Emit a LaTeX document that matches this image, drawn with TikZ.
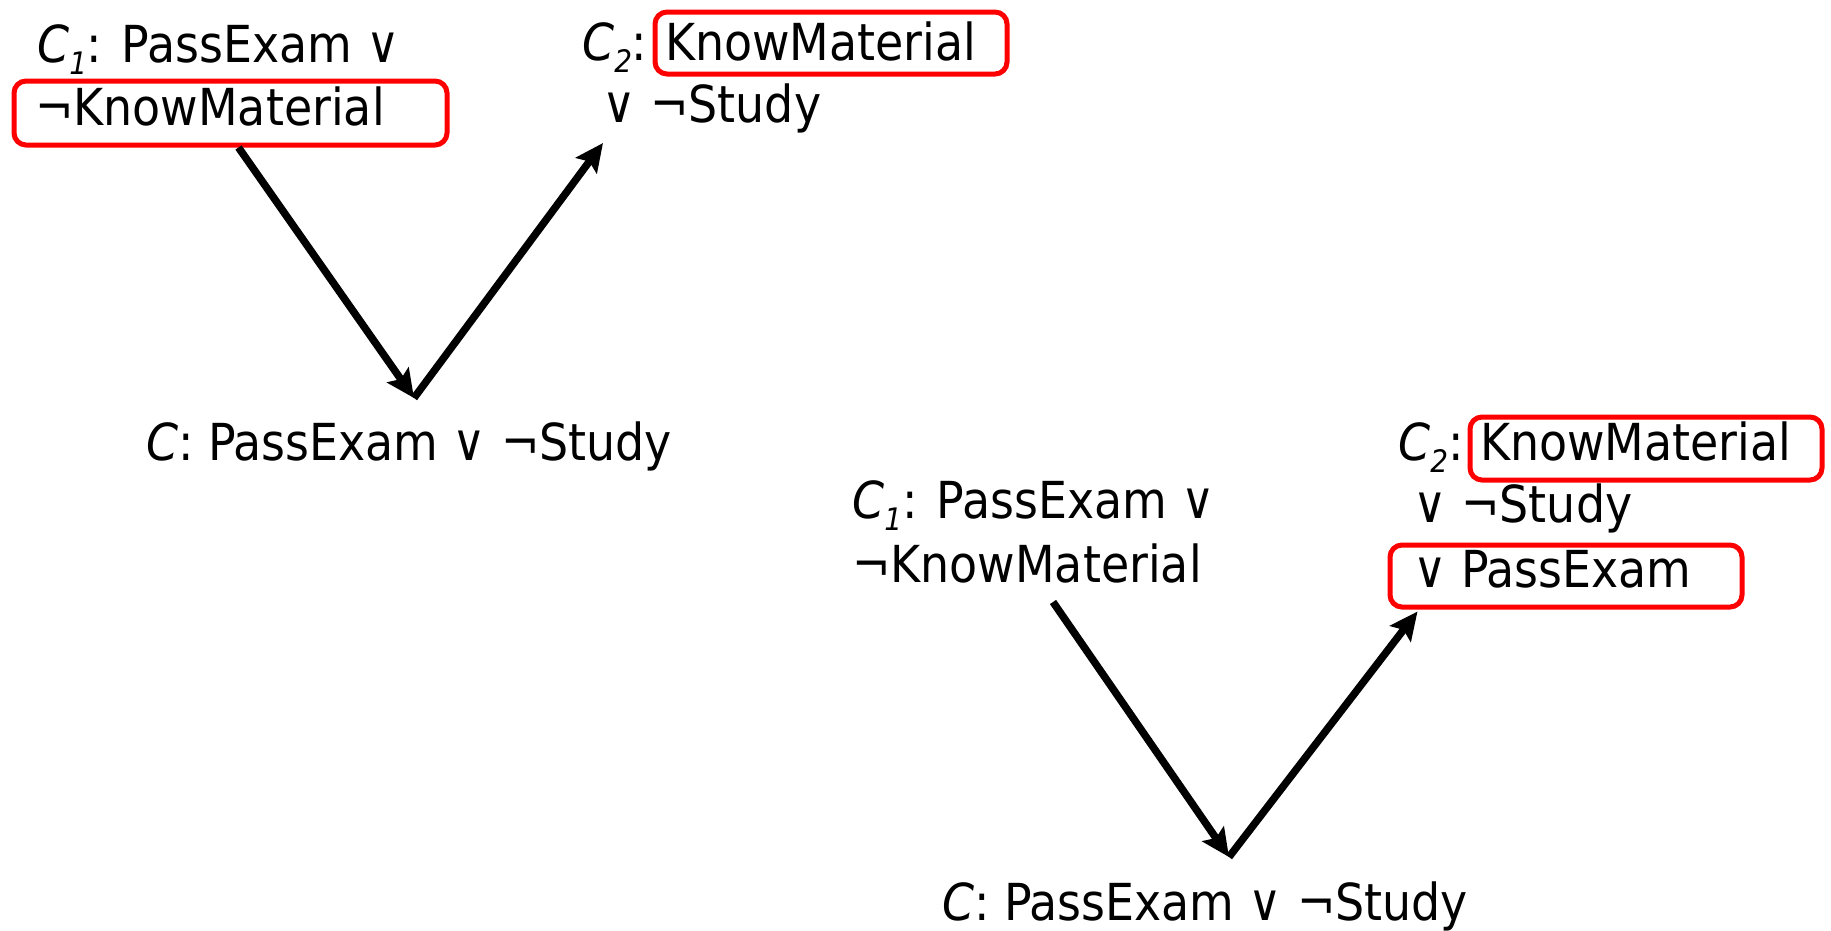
\documentclass[tikz,border=0pt]{standalone}
\usepackage{fontspec}
\setmainfont{DejaVu Sans Condensed}
\usetikzlibrary{arrows.meta,calc}
% clause name: italic C with a lowered italic index
\newcommand{\clausename}[1]{{\itshape C}\raisebox{-12pt}{\fontsize{31}{31}\selectfont\itshape #1}}
\begin{document}
\begin{tikzpicture}[x=1pt,y=-1pt,
  txt/.style={inner sep=0pt, anchor=base west, font=\fontsize{51}{60}\selectfont},
  hl/.style={draw=red, line width=5pt, rounded corners=12pt, inner sep=0pt,
             anchor=north west},
  arr/.style={line width=7.5pt, -{Stealth[length=28pt,width=26pt,inset=5pt]}}]
\useasboundingbox (0,0) rectangle (1831,930);

% ---- first resolution step ----
\node[txt] (c1a) at (37,62) {\clausename{1}: PassExam ∨};
\node[txt] (k1)  at (35,125) {¬KnowMaterial};
\node[hl, minimum width=433pt, minimum height=64pt] (b1) at (11.5,78.5) {};

\node[txt] (c2a) at (582,60) {\clausename{2}:};
\node[txt] (m1)  at (665,60) {KnowMaterial};
\node[hl, minimum width=352pt, minimum height=62pt] (b2) at (652.5,9.5) {};
\node[txt] (s1)  at (602,122) {∨ ¬Study};

\node[txt] (r1) at (146,460) {{\itshape C}: PassExam ∨ ¬Study};

\coordinate (v1) at (414,398);
\draw[arr] ($(b1.south west)+(227,0)$) -- (v1);
\draw[arr] (v1) -- ($(s1.base west)+(1,21)$);

% ---- second resolution step ----
\node[txt] (c1b) at (852,518) {\clausename{1}: PassExam ∨};
\node[txt] (k2)  at (852,582) {¬KnowMaterial};

\node[txt] (c2b) at (1398,460) {\clausename{2}:};
\node[txt] (m2)  at (1480,460) {KnowMaterial};
\node[hl, minimum width=352pt, minimum height=63pt] (b3) at (1467.5,414.5) {};
\node[txt] (s2)  at (1413,522) {∨ ¬Study};
\node[txt] (p2)  at (1413,587) {∨ PassExam};
\node[hl, minimum width=352pt, minimum height=62pt] (b4) at (1387.5,542.5) {};

\node[txt] (r2) at (942,920) {{\itshape C}: PassExam ∨ ¬Study};

\coordinate (v2) at (1229,857);
\draw[arr] ($(k2.base west)+(201,20)$) -- (v2);
\draw[arr] (v2) -- ($(b4.south west)+(30,2)$);
\end{tikzpicture}
\end{document}
